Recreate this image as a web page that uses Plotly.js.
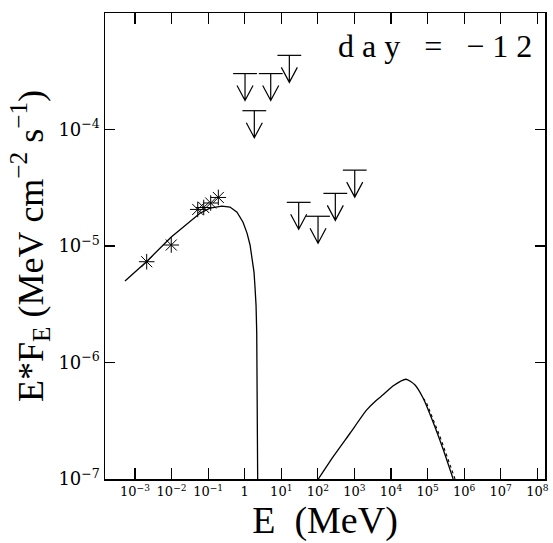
<!DOCTYPE html>
<html>
<head>
<meta charset="utf-8">
<script src="https://cdn.plot.ly/plotly-3.0.1.min.js"></script>
<style>html,body{margin:0;padding:0;background:#fff;}#chart{width:553px;height:543px;}</style>
</head>
<body>
<div id="chart"></div>
<script>
// Measured points (asterisks)
const starE = [0.00209, 0.0098, 0.0519, 0.0757, 0.1175, 0.190];
const starF = [7.33e-6, 1.02e-5, 2.06e-5, 2.14e-5, 2.34e-5, 2.61e-5];

// Upper limits
const ulE = [1.02, 1.83, 5.14, 16.6, 29.9, 101, 300, 1019];
const ulF = [3.02e-4, 1.45e-4, 3.02e-4, 4.33e-4, 2.37e-5, 1.80e-5, 2.83e-5, 4.48e-5];

// Low-energy model curve
const lowE = [5.33e-4, 2.13e-3, 9.64e-3, 0.0598, 0.1125, 0.239, 0.396, 0.615, 0.90, 1.156, 1.40, 1.58, 1.795, 1.91, 2.04, 2.13, 2.17, 2.21, 2.24, 2.26];
const lowF = [5.0e-6, 7.41e-6, 1.19e-5, 1.91e-5, 2.11e-5, 2.20e-5, 2.16e-5, 1.95e-5, 1.60e-5, 1.29e-5, 1.02e-5, 7.87e-6, 5.97e-6, 4.44e-6, 3.11e-6, 1.79e-6, 9.53e-7, 4.78e-7, 2.17e-7, 1.0e-7];

// High-energy model curve (solid)
const highE = [102.8, 263, 757, 2168, 4000, 6166, 11560, 25700, 45400, 75860, 144500, 269000, 500000];
const highF = [1.0e-7, 1.556e-7, 2.47e-7, 3.92e-7, 4.75e-7, 5.30e-7, 6.31e-7, 7.18e-7, 6.41e-7, 4.93e-7, 3.02e-7, 1.78e-7, 1.0e-7];

// High-energy model curve (dotted branch)
const dotE = [75860, 90600, 218800, 562000];
const dotF = [4.93e-7, 4.61e-7, 2.31e-7, 1.0e-7];

// Tick labels
const xTickVals = [1e-3, 1e-2, 1e-1, 1, 1e1, 1e2, 1e3, 1e4, 1e5, 1e6, 1e7, 1e8];
const xTickText = ['10<sup>\u22123</sup>', '10<sup>\u22122</sup>', '10<sup>\u22121</sup>', '1', '10<sup>1</sup>', '10<sup>2</sup>', '10<sup>3</sup>', '10<sup>4</sup>', '10<sup>5</sup>', '10<sup>6</sup>', '10<sup>7</sup>', '10<sup>8</sup>'];
const yTickVals = [1e-7, 1e-6, 1e-5, 1e-4, 1e-3];
const yTickText = ['10<sup>\u22127</sup>', '10<sup>\u22126</sup>', '10<sup>\u22125</sup>', '10<sup>\u22124</sup>', '10<sup>\u22123</sup>'];

const ink = '#000';
const serifA = 'Liberation Serif, DejaVu Serif, serif';
const serifB = 'DejaVu Serif, Liberation Serif, serif';

const traces = [
  {x: lowE, y: lowF, mode: 'lines', line: {color: ink, width: 1.3}, showlegend: false, hoverinfo: 'skip'},
  {x: dotE, y: dotF, mode: 'lines', line: {color: ink, width: 1.1, dash: 'dot'}, showlegend: false, hoverinfo: 'skip'},
  {x: highE, y: highF, mode: 'lines', line: {color: ink, width: 1.3, shape: 'spline', smoothing: 0.6}, showlegend: false, hoverinfo: 'skip'},
  {x: starE, y: starF, mode: 'markers', marker: {symbol: 'asterisk-open', size: 13, color: ink, line: {color: ink, width: 1}}, showlegend: false},
  {x: ulE, y: ulF, mode: 'markers', marker: {symbol: 'line-ew-open', size: 17, color: ink, line: {color: ink, width: 1.2}}, showlegend: false}
];

const shapes = ulE.map((e, i) => ({
  type: 'path', xref: 'x', yref: 'y',
  xsizemode: 'pixel', ysizemode: 'pixel',
  xanchor: e, yanchor: ulF[i],
  path: 'M0,0 L0,-27 M-8,-12 L0,-27 L8,-12',
  line: {color: ink, width: 1.2}, layer: 'above'
}));

const nb = '\u00A0';
const layout = {
  width: 553, height: 543,
  margin: {l: 105, r: 8, t: 13, b: 64},
  paper_bgcolor: '#fff', plot_bgcolor: '#fff',
  showlegend: false,
  font: {family: serifA, color: ink},
  xaxis: {
    type: 'log', range: [-3.82, 8.21],
    tickmode: 'array', tickvals: xTickVals, ticktext: xTickText,
    ticks: 'inside', ticklen: 11, tickwidth: 1.2, tickcolor: ink,
    showline: true, linecolor: ink, linewidth: 1.5, mirror: 'ticks',
    showgrid: false, zeroline: false,
    tickfont: {family: serifB, size: 13, color: ink},
    title: {text: nb + 'E' + nb + nb + '(MeV)', font: {family: serifA, size: 38, color: ink}, standoff: 4}
  },
  yaxis: {
    type: 'log', range: [-7, -3],
    tickmode: 'array', tickvals: yTickVals, ticktext: yTickText,
    ticks: 'inside', ticklen: 10, tickwidth: 1.2, tickcolor: ink,
    showline: true, linecolor: ink, linewidth: 1.5, mirror: 'ticks',
    showgrid: false, zeroline: false,
    tickfont: {family: serifB, size: 18, color: ink},
    title: {text: nb + nb + nb + nb + nb + 'E*F<sub>E</sub>' + nb + '(MeV' + nb + 'cm<sup>\u22122</sup>' + nb + 's<sup>\u22121</sup>)', font: {family: serifA, size: 36, color: ink}, standoff: 4}
  },
  shapes: shapes,
  annotations: [{
    xref: 'paper', yref: 'paper', x: 0.975, y: 0.93, xanchor: 'right', yanchor: 'middle',
    text: 'd' + nb + 'a' + nb + 'y' + nb + nb + nb + '=' + nb + nb + nb + '\u2212' + nb + '1' + nb + '2',
    showarrow: false, font: {family: serifA, size: 32, color: ink}
  }]
};

Plotly.newPlot('chart', traces, layout, {staticPlot: true, displayModeBar: false});
</script>
</body>
</html>
